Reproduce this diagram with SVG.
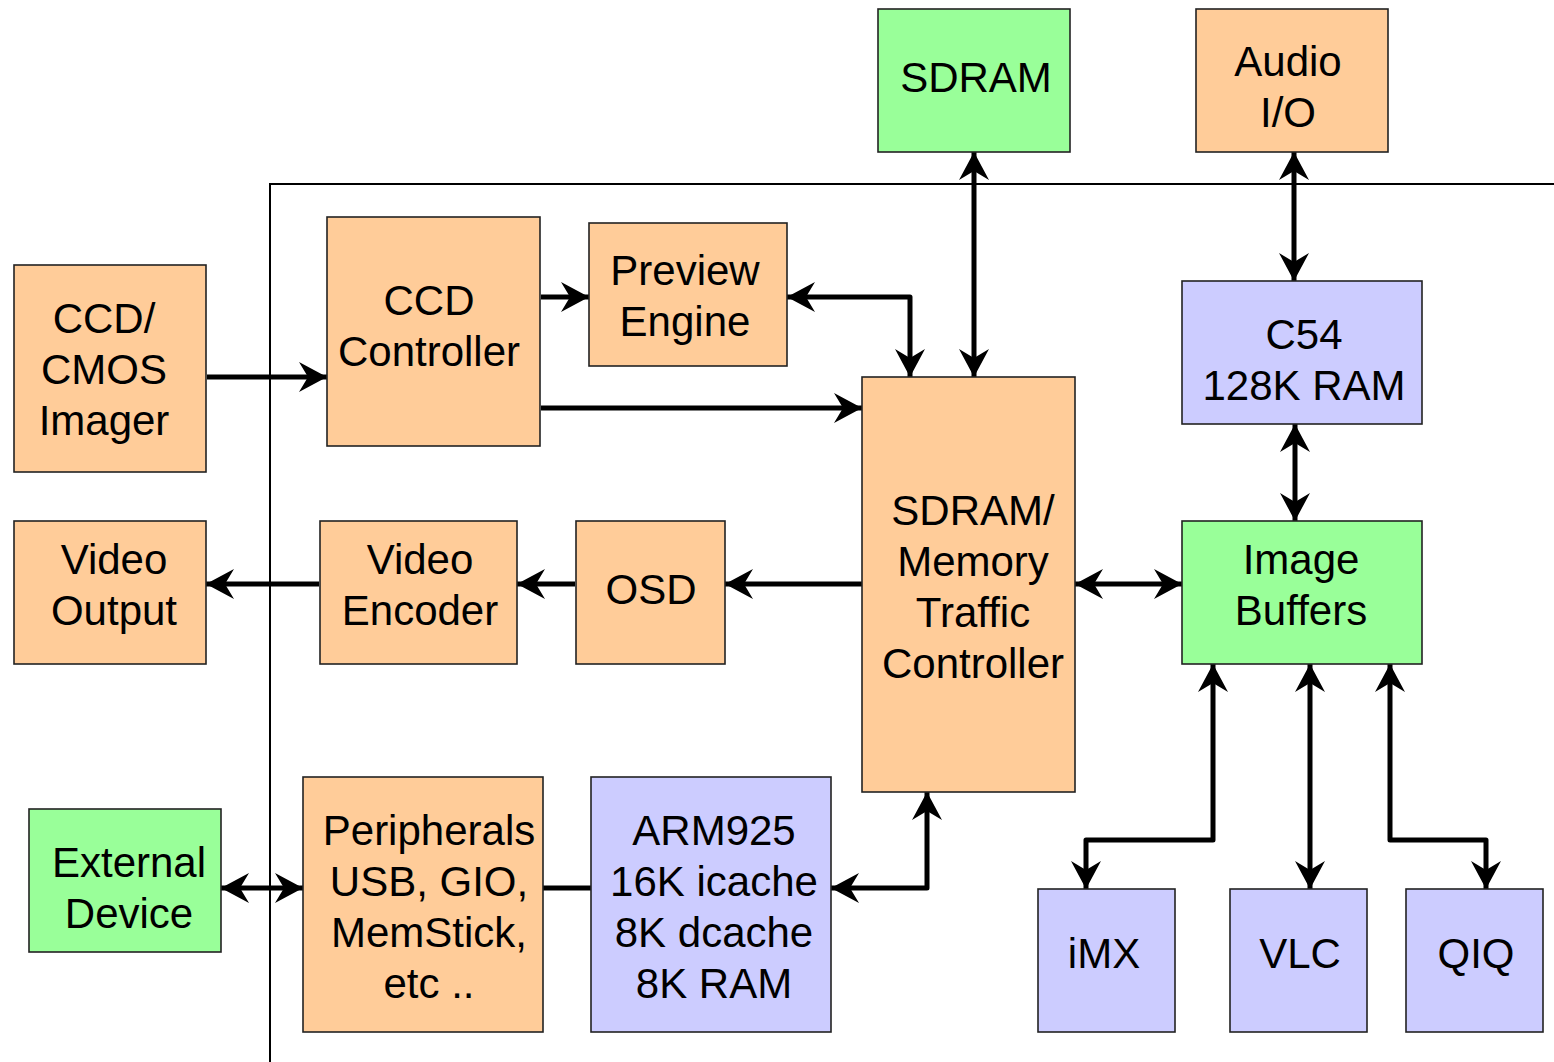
<svg xmlns="http://www.w3.org/2000/svg" width="1554" height="1062" viewBox="0 0 1554 1062">
  <style>
    .box { stroke: #222; stroke-width: 1.6; }
    .org { fill: #FFCC99; }
    .grn { fill: #99FF99; }
    .blu { fill: #CCCCFF; }
    .lbl { font-family: "Liberation Sans", Arial, Helvetica, sans-serif; font-size: 42px; fill: #000; text-anchor: middle; }
    .wire { fill: none; stroke: #000; stroke-width: 5; stroke-linejoin: round; }
    .frame { fill: none; stroke: #000; stroke-width: 2; }
  </style>
  <defs>
    <marker id="ah" viewBox="0 0 28 30" refX="28" refY="15" markerWidth="28" markerHeight="30" markerUnits="userSpaceOnUse" orient="auto-start-reverse">
      <path d="M0,0 L28,15 L0,30 L9,15 Z" fill="#000"/>
    </marker>
  </defs>

  <rect width="1554" height="1062" fill="#fff"/>

  <!-- chip boundary -->
  <path class="frame" d="M270,1062 V184 H1554"/>

  <g id="connectors">
    <line class="wire" x1="207" y1="377" x2="327" y2="377" marker-end="url(#ah)"/>
    <line class="wire" x1="541" y1="297" x2="589" y2="297" marker-end="url(#ah)"/>
    <line class="wire" x1="541" y1="408" x2="862" y2="408" marker-end="url(#ah)"/>
    <path class="wire" d="M787,297 H910 V377" marker-start="url(#ah)" marker-end="url(#ah)"/>
    <line class="wire" x1="974" y1="152" x2="974" y2="377" marker-start="url(#ah)" marker-end="url(#ah)"/>
    <line class="wire" x1="1294" y1="152" x2="1294" y2="281" marker-start="url(#ah)" marker-end="url(#ah)"/>
    <line class="wire" x1="1295" y1="424" x2="1295" y2="521" marker-start="url(#ah)" marker-end="url(#ah)"/>
    <line class="wire" x1="1075" y1="584" x2="1182" y2="584" marker-start="url(#ah)" marker-end="url(#ah)"/>
    <line class="wire" x1="862" y1="584" x2="725" y2="584" marker-end="url(#ah)"/>
    <line class="wire" x1="575" y1="584" x2="517" y2="584" marker-end="url(#ah)"/>
    <line class="wire" x1="319" y1="584" x2="206" y2="584" marker-end="url(#ah)"/>
    <line class="wire" x1="221" y1="888" x2="303" y2="888" marker-start="url(#ah)" marker-end="url(#ah)"/>
    <line class="wire" x1="541" y1="888" x2="591" y2="888"/>
    <path class="wire" d="M831,888 H927 V792" marker-start="url(#ah)" marker-end="url(#ah)"/>
    <path class="wire" d="M1213,664 V840 H1086 V889" marker-start="url(#ah)" marker-end="url(#ah)"/>
    <line class="wire" x1="1310" y1="664" x2="1310" y2="889" marker-start="url(#ah)" marker-end="url(#ah)"/>
    <path class="wire" d="M1390,664 V840 H1486 V889" marker-start="url(#ah)" marker-end="url(#ah)"/>
  </g>

  <g id="sdram">
    <rect class="box grn" x="878" y="9" width="192" height="143"/>
    <text class="lbl" x="976" y="92">SDRAM</text>
  </g>
  <g id="audio-io">
    <rect class="box org" x="1196" y="9" width="192" height="143"/>
    <text class="lbl" x="1288" y="76">Audio</text>
    <text class="lbl" x="1288" y="127">I/O</text>
  </g>
  <g id="imager">
    <rect class="box org" x="14" y="265" width="192" height="207"/>
    <text class="lbl" x="104" y="333">CCD/</text>
    <text class="lbl" x="104" y="384">CMOS</text>
    <text class="lbl" x="104" y="435">Imager</text>
  </g>
  <g id="ccd-controller">
    <rect class="box org" x="327" y="217" width="213" height="229"/>
    <text class="lbl" x="429" y="315">CCD</text>
    <text class="lbl" x="429" y="366">Controller</text>
  </g>
  <g id="preview-engine">
    <rect class="box org" x="589" y="223" width="198" height="143"/>
    <text class="lbl" x="685" y="285">Preview</text>
    <text class="lbl" x="685" y="336">Engine</text>
  </g>
  <g id="memory-controller">
    <rect class="box org" x="862" y="377" width="213" height="415"/>
    <text class="lbl" x="973" y="525">SDRAM/</text>
    <text class="lbl" x="973" y="576">Memory</text>
    <text class="lbl" x="973" y="627">Traffic</text>
    <text class="lbl" x="973" y="678">Controller</text>
  </g>
  <g id="c54">
    <rect class="box blu" x="1182" y="281" width="240" height="143"/>
    <text class="lbl" x="1304" y="349">C54</text>
    <text class="lbl" x="1304" y="400">128K RAM</text>
  </g>
  <g id="image-buffers">
    <rect class="box grn" x="1182" y="521" width="240" height="143"/>
    <text class="lbl" x="1301" y="574">Image</text>
    <text class="lbl" x="1301" y="625">Buffers</text>
  </g>
  <g id="video-output">
    <rect class="box org" x="14" y="521" width="192" height="143"/>
    <text class="lbl" x="114" y="574">Video</text>
    <text class="lbl" x="114" y="625">Output</text>
  </g>
  <g id="video-encoder">
    <rect class="box org" x="320" y="521" width="197" height="143"/>
    <text class="lbl" x="420" y="574">Video</text>
    <text class="lbl" x="420" y="625">Encoder</text>
  </g>
  <g id="osd">
    <rect class="box org" x="576" y="521" width="149" height="143"/>
    <text class="lbl" x="651" y="604">OSD</text>
  </g>
  <g id="external-device">
    <rect class="box grn" x="29" y="809" width="192" height="143"/>
    <text class="lbl" x="129" y="877">External</text>
    <text class="lbl" x="129" y="928">Device</text>
  </g>
  <g id="peripherals">
    <rect class="box org" x="303" y="777" width="240" height="255"/>
    <text class="lbl" x="429" y="845">Peripherals</text>
    <text class="lbl" x="429" y="896">USB, GIO,</text>
    <text class="lbl" x="429" y="947">MemStick,</text>
    <text class="lbl" x="429" y="998">etc ..</text>
  </g>
  <g id="arm925">
    <rect class="box blu" x="591" y="777" width="240" height="255"/>
    <text class="lbl" x="714" y="845">ARM925</text>
    <text class="lbl" x="714" y="896">16K icache</text>
    <text class="lbl" x="714" y="947">8K dcache</text>
    <text class="lbl" x="714" y="998">8K RAM</text>
  </g>
  <g id="imx">
    <rect class="box blu" x="1038" y="889" width="137" height="143"/>
    <text class="lbl" x="1104" y="968">iMX</text>
  </g>
  <g id="vlc">
    <rect class="box blu" x="1230" y="889" width="137" height="143"/>
    <text class="lbl" x="1300" y="968">VLC</text>
  </g>
  <g id="qiq">
    <rect class="box blu" x="1406" y="889" width="137" height="143"/>
    <text class="lbl" x="1476" y="968">QIQ</text>
  </g>
</svg>
